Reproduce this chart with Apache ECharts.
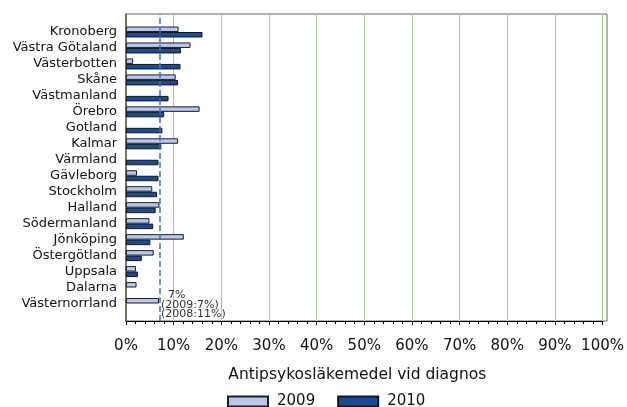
<!DOCTYPE html>
<html>
<head>
<meta charset="utf-8">
<script src="https://cdn.jsdelivr.net/npm/echarts@6/dist/echarts.min.js"></script>
<style>html,body{margin:0;padding:0;background:#fff}#c{width:627px;height:407px}</style>
</head>
<body>
<div id="c"></div>
<script>
const categories = ['Kronoberg','Västra Götaland','Västerbotten','Skåne','Västmanland','Örebro','Gotland','Kalmar','Värmland','Gävleborg','Stockholm','Halland','Södermanland','Jönköping','Östergötland','Uppsala','Dalarna','Västernorrland'];
const values2009 = [11.0, 13.5, 1.5, 10.4, null, 15.4, null, 10.9, null, 2.3, 5.5, 7.0, 4.9, 12.1, 5.8, 2.1, 2.2, 6.9];
const values2010 = [16.0, 11.5, 11.4, 10.9, 8.9, 8.0, 7.6, 7.4, 6.8, 6.8, 6.5, 6.2, 5.7, 5.1, 3.3, 2.5, null, null];
const seriesNames = ['2009', '2010'];
const referenceValue = 7;
const annotationCategory = 'Västernorrland';
const annotationText = '  7%\n(2009:7%)\n(2008:11%)';
const xTicks = [0, 100, 10];
const axisTitle = 'Antipsykosläkemedel vid diagnos';

const FONT = 'DejaVu Sans';
const annIdx = categories.indexOf(annotationCategory);
const data2009 = values2009.map((v, i) => i === annIdx ? {
  value: v,
  label: { show: true, position: 'right', distance: 2, formatter: annotationText,
    fontFamily: FONT, fontSize: 11, lineHeight: 9.5, color: '#333', offset: [0, 4] }
} : v);

const chart = echarts.init(document.getElementById('c'), null, { renderer: 'canvas' });
chart.setOption({
  animation: false,
  backgroundColor: '#fff',
  grid: [
    { left: 126, right: 23, top: 14, bottom: 86, containLabel: false },
    { left: 126, right: 23, top: 24, bottom: 95.5, containLabel: false },
    { left: 126, right: 20, top: 14, bottom: 86, show: true, borderColor: '#666', borderWidth: 1, backgroundColor: 'transparent' }
  ],
  xAxis: [
    { gridIndex: 0, type: 'value', min: xTicks[0], max: xTicks[1], interval: xTicks[2],
      axisLine: { show: true, lineStyle: { color: '#000', width: 1 } },
      axisTick: { show: true, length: 4, lineStyle: { color: '#000' } },
      minorTick: { show: true, splitNumber: 5, length: 3, lineStyle: { color: '#000' } },
      axisLabel: { formatter: '{value}%', fontFamily: FONT, fontSize: 15, color: '#111', margin: 18 },
      splitLine: { show: true, lineStyle: { color: '#a6cf74', width: 1 } },
      name: axisTitle, nameLocation: 'middle', nameGap: 46,
      nameTextStyle: { fontFamily: FONT, fontSize: 15.5, color: '#111', padding: [0, 14, 0, 0] }
    },
    { gridIndex: 1, type: 'value', min: xTicks[0], max: xTicks[1], show: false },
    { gridIndex: 2, type: 'value', show: false }
  ],
  yAxis: [
    { gridIndex: 0, type: 'value', min: 0, max: 1, axisLabel: { show: false }, axisTick: { show: false },
      splitLine: { show: false }, axisLine: { show: true, lineStyle: { color: '#5b6347', width: 1.5 } } },
    { gridIndex: 1, type: 'category', data: categories, inverse: true,
      axisLine: { show: false }, axisTick: { show: false },
      axisLabel: { fontFamily: FONT, fontSize: 13, color: '#111', margin: 9, interval: 0, padding: [0, 0, 3, 0] } },
    { gridIndex: 2, type: 'value', show: false }
  ],
  legend: {
    data: seriesNames, left: 222, top: 389, padding: 5, itemWidth: 40, itemHeight: 10, itemGap: 22,
    textStyle: { fontFamily: FONT, fontSize: 15, color: '#111', padding: [0, 0, 0, 4] },
    icon: 'rect'
  },
  series: [
    { name: seriesNames[0], type: 'bar', xAxisIndex: 1, yAxisIndex: 1, data: data2009,
      barWidth: 5.5, barGap: '0%',
      itemStyle: { color: '#b9c8e8', borderColor: '#1b1e2a', borderWidth: 1 } },
    { name: seriesNames[1], type: 'bar', xAxisIndex: 1, yAxisIndex: 1, data: values2010,
      barWidth: 5.5, barGap: '0%',
      itemStyle: { color: '#1c4b8f', borderColor: '#0d1526', borderWidth: 1 } },
    { name: 'ref', type: 'line', xAxisIndex: 0, yAxisIndex: 0, data: [], silent: true,
      markLine: { silent: true, symbol: 'none', animation: false,
        label: { show: false },
        lineStyle: { type: [6, 3], color: '#3f6fb0', width: 1.5 },
        data: [{ xAxis: referenceValue }] } }
  ]
});
</script>
</body>
</html>
